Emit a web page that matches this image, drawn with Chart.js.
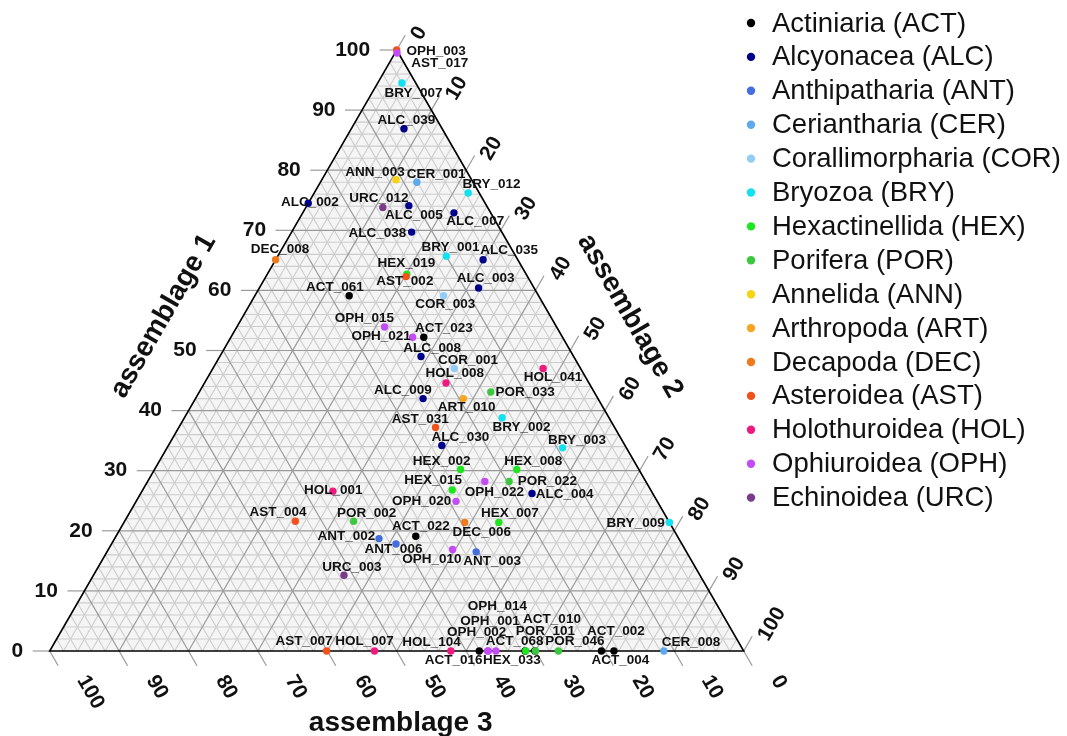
<!DOCTYPE html>
<html>
<head>
<meta charset="utf-8">
<script src="https://cdn.jsdelivr.net/npm/chart.js@4.4.1/dist/chart.umd.min.js"></script>
<style>
  html, body { margin: 0; padding: 0; background: #ffffff; }
  #wrap { width: 1067px; height: 736px; position: relative; }
</style>
</head>
<body>
<div id="wrap"><canvas id="chart"></canvas></div>
<script>
// Sample compositions: [sample, assemblage 1, assemblage 2, assemblage 3] in %
const ACT = [
  ['ACT_061', 59.1, 13.6, 27.3],
  ['ACT_023', 52.2, 27.8, 20.0],
  ['ACT_022', 19.1, 43.2, 37.7],
  ['ACT_016', 0, 61.9, 38.1],
  ['ACT_068', 0, 68.5, 31.5],
  ['ACT_010', 0, 69.9, 30.1],
  ['ACT_002', 0, 79.5, 20.5],
  ['ACT_004', 0, 81.3, 18.7]
];
const ALC = [
  ['ALC_039', 86.9, 7.6, 5.5],
  ['ALC_002', 74.5, 0, 25.5],
  ['ALC_005', 74.1, 14.7, 11.2],
  ['ALC_007', 72.9, 21.8, 5.3],
  ['ALC_038', 69.7, 17.3, 13.0],
  ['ALC_035', 65.1, 29.9, 5.0],
  ['ALC_003', 60.4, 31.6, 8.0],
  ['ALC_008', 49.0, 29.0, 22.0],
  ['ALC_009', 42.0, 32.8, 25.2],
  ['ALC_030', 34.2, 39.4, 26.4],
  ['ALC_004', 26.2, 56.4, 17.4]
];
const ANT = [
  ['ANT_002', 18.7, 38.1, 43.2],
  ['ANT_006', 17.8, 41.0, 41.2],
  ['ANT_003', 16.5, 53.2, 30.3]
];
const CER = [
  ['CER_001', 78.0, 13.9, 8.1],
  ['CER_008', 0, 88.5, 11.5]
];
const COR = [
  ['COR_003', 59.1, 27.2, 13.7],
  ['COR_001', 47.0, 34.8, 18.2]
];
const BRY = [
  ['BRY_007', 94.5, 3.5, 2.0],
  ['BRY_012', 76.2, 22.2, 1.6],
  ['BRY_001', 65.7, 24.3, 10.0],
  ['BRY_002', 38.8, 45.8, 15.4],
  ['BRY_003', 33.8, 57.0, 9.2],
  ['BRY_009', 21.4, 78.6, 0]
];
const HEX = [
  ['HEX_019', 62.7, 20.1, 17.2],
  ['HEX_002', 30.2, 44.1, 25.7],
  ['HEX_008', 30.2, 52.2, 17.6],
  ['HEX_015', 26.8, 44.6, 28.6],
  ['HEX_007', 21.4, 54.0, 24.6],
  ['HEX_033', 0, 68.6, 31.4]
];
const POR = [
  ['POR_033', 43.1, 42.0, 14.9],
  ['POR_022', 28.2, 52.1, 19.7],
  ['POR_002', 21.6, 33.0, 45.4],
  ['POR_101', 0, 70.0, 30.0],
  ['POR_046', 0, 73.3, 26.7]
];
const ANN = [
  ['ANN_003', 78.4, 10.7, 10.9]
];
const ART = [
  ['ART_010', 42.0, 38.6, 19.4]
];
const DEC = [
  ['DEC_008', 65.1, 0, 34.9],
  ['DEC_006', 21.4, 49.1, 29.5]
];
const AST = [
  ['AST_017', 100, 0, 0],
  ['AST_002', 62.3, 20.2, 17.5],
  ['AST_031', 37.2, 37.0, 25.8],
  ['AST_004', 21.6, 24.6, 53.8],
  ['AST_007', 0, 39.9, 60.1]
];
const HOL = [
  ['HOL_041', 47.0, 47.6, 5.4],
  ['HOL_008', 44.6, 34.8, 20.6],
  ['HOL_001', 26.6, 27.5, 45.9],
  ['HOL_007', 0, 46.8, 53.2],
  ['HOL_104', 0, 57.8, 42.2]
];
const OPH = [
  ['OPH_003', 99.5, 0.3, 0.2],
  ['OPH_015', 53.9, 21.3, 24.8],
  ['OPH_021', 52.2, 26.2, 21.6],
  ['OPH_022', 28.2, 48.6, 23.2],
  ['OPH_020', 24.9, 46.1, 29.0],
  ['OPH_010', 16.9, 49.6, 33.5],
  ['OPH_014', 0, 63.1, 36.9],
  ['OPH_001', 0, 63.2, 36.8],
  ['OPH_002', 0, 64.3, 35.7]
];
const URC = [
  ['URC_012', 73.8, 11.1, 15.1],
  ['URC_003', 12.6, 36.1, 51.3]
];

const groupRows = [ACT, ALC, ANT, CER, COR, BRY, HEX, POR, ANN, ART, DEC, AST, HOL, OPH, URC];
const groupNames = [
  'Actiniaria (ACT)', 'Alcyonacea (ALC)', 'Anthipatharia (ANT)', 'Ceriantharia (CER)',
  'Corallimorpharia (COR)', 'Bryozoa (BRY)', 'Hexactinellida (HEX)', 'Porifera (POR)',
  'Annelida (ANN)', 'Arthropoda (ART)', 'Decapoda (DEC)', 'Asteroidea (AST)',
  'Holothuroidea (HOL)', 'Ophiuroidea (OPH)', 'Echinoidea (URC)'
];
const groupColors = [
  '#000000', '#00008b', '#436ee0', '#5ea8ec', '#92cdf8', '#12e2ef', '#1ee61e', '#3cc83c',
  '#f7d312', '#f8a41c', '#f07a1a', '#f4511a', '#ee1a80', '#c34cf6', '#7b3b8b'
];
const tickValues = [0, 10, 20, 30, 40, 50, 60, 70, 80, 90, 100];
const axisTitles = ['assemblage 1', 'assemblage 2', 'assemblage 3'];

// Where each sample name sits relative to its point (pixels, label centre)
const labelOffsets = {
  OPH_003: [39, -2], AST_017: [43, 13.5], BRY_007: [11.5, 10], ALC_039: [2.3, -8],
  ANN_003: [-21, -7.3], CER_001: [19.3, -7.7], BRY_012: [23.3, -8.3], ALC_002: [1.7, -0.6],
  URC_012: [-4, -9], ALC_005: [5, 9.3], ALC_007: [21.3, 8.3], ALC_038: [-34.2, 1],
  DEC_008: [4.3, -10], BRY_001: [4.1, -9.3], ALC_035: [26, -9.3], HEX_019: [-0.4, -10.7],
  AST_002: [-1.2, 5], ALC_003: [7.1, -9.3], ACT_061: [-14.3, -8.4], COR_003: [1.7, 8.6],
  OPH_015: [-20.1, -9], OPH_021: [-31.5, -0.6], ACT_023: [20.2, -9], ALC_008: [11.1, -8.4],
  COR_001: [13.6, -8.3], HOL_041: [9.8, 9], HOL_008: [8.7, -9.4], POR_033: [34.3, 0],
  ALC_009: [-20.1, -8.7], ART_010: [3.2, 8.6], BRY_002: [19.4, 9.3], AST_031: [-15.4, -8.4],
  ALC_030: [18.5, -8], BRY_003: [14.5, -8], HEX_002: [-19, -8.6], HEX_008: [16.5, -8.6],
  OPH_022: [9.5, 10.4], POR_022: [38.2, -0.6], HEX_015: [-19.1, -9.3], ALC_004: [32.5, 0.3],
  HOL_001: [0.5, -0.6], OPH_020: [-34.3, -0.3], AST_004: [-17.3, -8.6], POR_002: [13, -8],
  DEC_006: [17, 9.6], HEX_007: [11.1, -8.7], ACT_022: [5.1, -9.6], ANT_002: [-32.7, -2],
  ANT_006: [-2.5, 5], OPH_010: [-20.7, 9.7], ANT_003: [16, 9.7], URC_003: [8, -8],
  BRY_009: [-33.8, 0.6], AST_007: [-22.5, -9.3], HOL_007: [-10.1, -9.3], HOL_104: [-19.3, -8.3],
  ACT_016: [-25.7, 9.7], HEX_033: [-14, 9.7], OPH_014: [9.8, -45], OPH_001: [1.7, -30],
  OPH_002: [-19.3, -18.3], ACT_068: [-10.5, -9.3], POR_101: [9.8, -20], ACT_010: [17.2, -31.7],
  POR_046: [16.4, -9.3], ACT_002: [14.5, -19.3], ACT_004: [6.5, 9.7], CER_008: [27.2, -8.7]
};

const H = Math.sqrt(3) / 2;
// Ternary composition -> planar coordinates (side length 100)
function toPlane(a1, a2, a3) {
  const s = a1 + a2 + a3;
  return { x: (a2 + a1 / 2) / s * 100, y: a1 / s * 100 * H };
}

// later groups are painted over earlier ones
const datasets = groupRows.map((rows, i) => ({
  label: groupNames[i],
  data: rows.map(r => Object.assign(toPlane(r[1], r[2], r[3]), { name: r[0] })),
  backgroundColor: groupColors[i],
  borderColor: groupColors[i],
  borderWidth: 0,
  pointRadius: 3.7,
  pointHoverRadius: 3.7,
  order: groupRows.length - i,
  clip: false
}));

const SANS = '"Liberation Sans", Arial, Helvetica, sans-serif';

const ternaryFrame = {
  id: 'ternaryFrame',
  beforeDatasetsDraw(chart) {
    const { ctx } = chart;
    const xs = chart.scales.x, ys = chart.scales.y;
    const P = (a1, a2, a3) => {
      const q = toPlane(a1, a2, a3);
      return [xs.getPixelForValue(q.x), ys.getPixelForValue(q.y)];
    };
    const seg = (p, q) => { ctx.beginPath(); ctx.moveTo(p[0], p[1]); ctx.lineTo(q[0], q[1]); ctx.stroke(); };
    const gridLine = v => {
      seg(P(v, 0, 100 - v), P(v, 100 - v, 0));
      seg(P(0, v, 100 - v), P(100 - v, v, 0));
      seg(P(0, 100 - v, v), P(100 - v, 0, v));
    };
    ctx.save();
    const T = P(100, 0, 0), L = P(0, 0, 100), R = P(0, 100, 0);
    ctx.beginPath(); ctx.moveTo(T[0], T[1]); ctx.lineTo(R[0], R[1]); ctx.lineTo(L[0], L[1]); ctx.closePath();
    ctx.fillStyle = '#f5f5f5'; ctx.fill();

    // minor grid every 2 %
    ctx.strokeStyle = '#cdcdcd'; ctx.lineWidth = 1.1;
    for (let k = 1; k < 50; k++) { const v = 2 * k; if (v % 10 !== 0) gridLine(v); }
    // major grid every 10 %
    ctx.strokeStyle = '#9a9a9a'; ctx.lineWidth = 1.2;
    for (let v = 10; v < 100; v += 10) gridLine(v);

    // ticks
    const tl = 17;
    tickValues.forEach(v => {
      const p1 = P(v, 0, 100 - v); seg(p1, [p1[0] - tl, p1[1]]);
      const p2 = P(100 - v, v, 0); seg(p2, [p2[0] + tl * 0.5, p2[1] - tl * H]);
      const p3 = P(0, 100 - v, v); seg(p3, [p3[0] + tl * 0.5, p3[1] + tl * H]);
    });

    // triangle border
    ctx.strokeStyle = '#000000'; ctx.lineWidth = 1.6;
    ctx.beginPath(); ctx.moveTo(T[0], T[1]); ctx.lineTo(R[0], R[1]); ctx.lineTo(L[0], L[1]); ctx.closePath(); ctx.stroke();

    // tick labels
    ctx.fillStyle = '#111111';
    ctx.font = 'bold 21px ' + SANS;
    ctx.textBaseline = 'middle';
    tickValues.forEach(v => {
      const t = String(v);
      const p1 = P(v, 0, 100 - v);
      ctx.textAlign = 'right';
      ctx.fillText(t, p1[0] - 26.5, p1[1]);
      ctx.textAlign = 'left';
      const p2 = P(100 - v, v, 0);
      ctx.save(); ctx.translate(p2[0] + 19.5, p2[1] - 11.6); ctx.rotate(-Math.PI / 3); ctx.fillText(t, 0, 0); ctx.restore();
      const p3 = P(0, 100 - v, v);
      ctx.save(); ctx.translate(p3[0] + 32, p3[1] + 26); ctx.rotate(Math.PI / 3); ctx.fillText(t, 0, 0); ctx.restore();
    });

    // axis titles
    ctx.font = 'bold 28px ' + SANS;
    ctx.textAlign = 'center';
    const off = 69;
    const mL = P(50, 0, 50), mR = P(50, 50, 0), mB = P(0, 50, 50);
    ctx.save(); ctx.translate(mL[0] - off * H, mL[1] - off * 0.5); ctx.rotate(-Math.PI / 3); ctx.fillText(axisTitles[0], 0, 0); ctx.restore();
    ctx.save(); ctx.translate(mR[0] + off * H, mR[1] - off * 0.5); ctx.rotate(Math.PI / 3); ctx.fillText(axisTitles[1], 0, 0); ctx.restore();
    ctx.textBaseline = 'alphabetic';
    ctx.fillText(axisTitles[2], mB[0] + 4, mB[1] + 80);
    ctx.restore();
  }
};

const sampleLabels = {
  id: 'sampleLabels',
  afterDatasetsDraw(chart) {
    const { ctx } = chart;
    ctx.save();
    ctx.font = 'bold 13.5px ' + SANS;
    ctx.fillStyle = '#111111';
    ctx.textAlign = 'center';
    ctx.textBaseline = 'middle';
    chart.data.datasets.forEach((ds, di) => {
      const meta = chart.getDatasetMeta(di);
      meta.data.forEach((pt, i) => {
        const name = ds.data[i].name;
        const o = labelOffsets[name] || [0, -10];
        ctx.fillText(name, pt.x + o[0], pt.y + o[1]);
      });
    });
    ctx.restore();
  }
};

const sideLegend = {
  id: 'sideLegend',
  afterDraw(chart) {
    const { ctx } = chart;
    ctx.save();
    ctx.font = '27.5px ' + SANS;
    ctx.textAlign = 'left';
    ctx.textBaseline = 'middle';
    chart.data.datasets.forEach((ds, i) => {
      const yy = 23 + i * 33.9;
      ctx.fillStyle = ds.backgroundColor;
      ctx.beginPath(); ctx.arc(751, yy, 4.2, 0, Math.PI * 2); ctx.fill();
      ctx.fillStyle = '#111111';
      ctx.fillText(ds.label, 772, yy + 1);
    });
    ctx.restore();
  }
};

new Chart(document.getElementById('chart'), {
  type: 'scatter',
  data: { datasets },
  options: {
    responsive: true,
    maintainAspectRatio: false,
    animation: false,
    events: [],
    layout: { padding: { left: 49.7, right: 323.3, top: 50, bottom: 85 } },
    scales: {
      x: { type: 'linear', min: 0, max: 100, display: false },
      y: { type: 'linear', min: 0, max: 100 * H, display: false }
    },
    plugins: { legend: { display: false }, tooltip: { enabled: false } }
  },
  plugins: [ternaryFrame, sampleLabels, sideLegend]
});
</script>
</body>
</html>
